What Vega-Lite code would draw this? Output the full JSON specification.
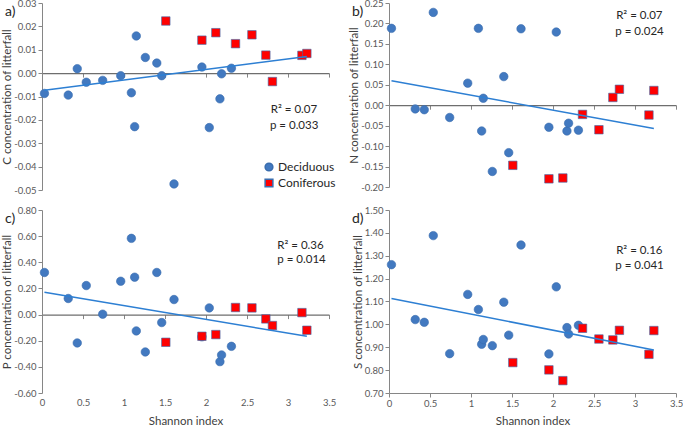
{
  "$schema": "https://vega.github.io/schema/vega-lite/v6.json",
  "padding": {"left": 1, "top": -2, "right": 0, "bottom": 0},
  "background": "white",
  "datasets": {
    "sites": [
      {"shannon": 0.03, "type": "Deciduous", "C": -0.0087, "N": 0.188, "P": 0.322, "S": 1.261},
      {"shannon": 0.32, "type": "Deciduous", "C": -0.0094, "N": -0.009, "P": 0.123, "S": 1.021},
      {"shannon": 0.43, "type": "Deciduous", "C": 0.0019, "N": -0.011, "P": -0.217, "S": 1.009},
      {"shannon": 0.54, "type": "Deciduous", "C": -0.0039, "N": 0.227, "P": 0.222, "S": 1.388},
      {"shannon": 0.74, "type": "Deciduous", "C": -0.0031, "N": -0.030, "P": 0.003, "S": 0.872},
      {"shannon": 0.96, "type": "Deciduous", "C": -0.0011, "N": 0.054, "P": 0.255, "S": 1.131},
      {"shannon": 1.09, "type": "Deciduous", "C": -0.0084, "N": 0.188, "P": 0.583, "S": 1.065},
      {"shannon": 1.13, "type": "Deciduous", "C": -0.0229, "N": -0.063, "P": 0.286, "S": 0.913},
      {"shannon": 1.15, "type": "Deciduous", "C": 0.0159, "N": 0.017, "P": -0.125, "S": 0.934},
      {"shannon": 1.26, "type": "Deciduous", "C": 0.0067, "N": -0.162, "P": -0.286, "S": 0.907},
      {"shannon": 1.40, "type": "Deciduous", "C": 0.0043, "N": 0.070, "P": 0.322, "S": 1.097},
      {"shannon": 1.46, "type": "Deciduous", "C": -0.0011, "N": -0.116, "P": -0.061, "S": 0.953},
      {"shannon": 1.61, "type": "Deciduous", "C": -0.0474, "N": 0.187, "P": 0.115, "S": 1.347},
      {"shannon": 1.95, "type": "Deciduous", "C": 0.0026, "N": -0.054, "P": -0.170, "S": 0.871},
      {"shannon": 2.04, "type": "Deciduous", "C": -0.0233, "N": 0.179, "P": 0.051, "S": 1.164},
      {"shannon": 2.17, "type": "Deciduous", "C": -0.0110, "N": -0.063, "P": -0.360, "S": 0.986},
      {"shannon": 2.19, "type": "Deciduous", "C": -0.0003, "N": -0.044, "P": -0.309, "S": 0.958},
      {"shannon": 2.31, "type": "Deciduous", "C": 0.0021, "N": -0.061, "P": -0.243, "S": 0.996},
      {"shannon": 1.51, "type": "Coniferous", "C": 0.0223, "N": -0.147, "P": -0.212, "S": 0.833},
      {"shannon": 1.95, "type": "Coniferous", "C": 0.0141, "N": -0.180, "P": -0.166, "S": 0.801},
      {"shannon": 2.12, "type": "Coniferous", "C": 0.0173, "N": -0.178, "P": -0.153, "S": 0.754},
      {"shannon": 2.36, "type": "Coniferous", "C": 0.0126, "N": -0.0225, "P": 0.054, "S": 0.983},
      {"shannon": 2.56, "type": "Coniferous", "C": 0.0164, "N": -0.060, "P": 0.051, "S": 0.936},
      {"shannon": 2.73, "type": "Coniferous", "C": 0.0077, "N": 0.019, "P": -0.033, "S": 0.932},
      {"shannon": 2.81, "type": "Coniferous", "C": -0.0036, "N": 0.039, "P": -0.084, "S": 0.974},
      {"shannon": 3.17, "type": "Coniferous", "C": 0.0076, "N": -0.024, "P": 0.015, "S": 0.869},
      {"shannon": 3.23, "type": "Coniferous", "C": 0.0084, "N": 0.036, "P": -0.120, "S": 0.973}
    ],
    "trend": [
      {"shannon": 0.03, "C": -0.0073, "N": 0.060, "P": 0.171, "S": 1.113},
      {"shannon": 3.23, "C": 0.0071, "N": -0.057, "P": -0.166, "S": 0.888}
    ]
  },
  "config": {
    "view": {"stroke": null},
    "font": "Lato",
    "axis": {
      "grid": false,
      "domainColor": "#868686",
      "tickColor": "#868686",
      "labelColor": "#595959",
      "labelFont": "Lato",
      "labelFontSize": 9.5,
      "labelOverlap": false,
      "labelBound": false,
      "labelFlush": false,
      "titleFont": "Lato",
      "titleFontSize": 11.5,
      "titleFontWeight": "normal",
      "titleColor": "#404040",
      "tickSize": 4
    },
    "legend": {"labelFont": "Lato", "labelFontSize": 12, "labelColor": "#262626"},
    "title": {"font": "Lato", "fontSize": 14, "fontWeight": "normal", "color": "#262626"}
  },
  "resolve": {"legend": {"color": "independent", "shape": "independent"}},
  "bounds": "flush",
  "columns": 2,
  "spacing": {"row": 20, "column": 60},
  "concat": [
    {
      "width": 287,
      "height": 187,
      "title": {"text": "a)", "anchor": "start", "frame": "group", "dx": -37, "dy": 32, "baseline": "middle"},
      "layer": [
        {
          "data": {"name": "sites"},
          "mark": {"type": "point", "filled": true, "size": 72, "opacity": 1, "strokeWidth": 0.6},
          "encoding": {
            "x": {"field": "shannon", "type": "quantitative", "scale": {"domain": [0, 3.5], "nice": false, "zero": false},
              "axis": {"orient": "bottom", "offset": -116.9, "values": [0, 0.5, 1, 1.5, 2, 2.5, 3, 3.5], "tickCount": 20, "labels": false, "title": null, "domainColor": "#6e6e6e", "domainWidth": 1.2}},
            "y": {"field": "C", "type": "quantitative", "scale": {"domain": [-0.05, 0.03], "nice": false, "zero": false},
              "axis": {"values": [-0.05, -0.04, -0.03, -0.02, -0.01, 0, 0.01, 0.02, 0.03], "tickCount": 20, "labelOverlap": false, "labelExpr": "replace(format(datum.value, '.2f'), '\u2212', '-')", "title": "C concentration of litterfall", "titlePadding": 1, "labelPadding": 2}},
            "color": {"field": "type", "type": "nominal", "scale": {"domain": ["Deciduous", "Coniferous"], "range": ["#4279C0", "#FF0000"]},
              "legend": {"orient": "none", "legendX": 221, "legendY": 158, "title": null, "symbolSize": 60, "rowPadding": 2, "labelOffset": 3}},
            "shape": {"field": "type", "type": "nominal", "scale": {"domain": ["Deciduous", "Coniferous"], "range": ["circle", "square"]},
              "legend": {"orient": "none", "legendX": 221, "legendY": 158, "title": null, "symbolSize": 60, "rowPadding": 2, "labelOffset": 3}},
            "stroke": {"value": "#3A6DAE"}
          }
        },
        {
          "data": {"name": "trend"},
          "mark": {"type": "line", "color": "#2D7FD3", "strokeWidth": 1.5},
          "encoding": {"x": {"field": "shannon", "type": "quantitative"}, "y": {"field": "C", "type": "quantitative"}}
        },
        {
          "data": {"values": [
            {"shannon": 2.79, "C": -0.0159, "label": "R² = 0.07"},
            {"shannon": 2.78, "C": -0.0227, "label": "p = 0.033"}
          ]},
          "mark": {"type": "text", "align": "left", "baseline": "middle", "fontSize": 11.5, "color": "#262626"},
          "encoding": {"x": {"field": "shannon", "type": "quantitative"}, "y": {"field": "C", "type": "quantitative"}, "text": {"field": "label"}}
        }
      ]
    },
    {
      "width": 287,
      "height": 184,
      "title": {"text": "b)", "anchor": "start", "frame": "group", "dx": -37, "dy": 32, "baseline": "middle"},
      "layer": [
        {
          "data": {"name": "sites"},
          "mark": {"type": "point", "filled": true, "size": 72, "opacity": 1, "strokeWidth": 0.6},
          "encoding": {
            "x": {"field": "shannon", "type": "quantitative", "scale": {"domain": [0, 3.5], "nice": false, "zero": false},
              "axis": {"orient": "bottom", "offset": -81.8, "values": [0, 0.5, 1, 1.5, 2, 2.5, 3, 3.5], "tickCount": 20, "labels": false, "title": null, "domainColor": "#6e6e6e", "domainWidth": 1.2}},
            "y": {"field": "N", "type": "quantitative", "scale": {"domain": [-0.2, 0.25], "nice": false, "zero": false},
              "axis": {"values": [-0.2, -0.15, -0.1, -0.05, 0, 0.05, 0.1, 0.15, 0.2, 0.25], "tickCount": 20, "labelOverlap": false, "labelExpr": "replace(format(datum.value, '.2f'), '\u2212', '-')", "title": "N concentration of litterfall", "titlePadding": 1, "labelPadding": 2}},
            "color": {"field": "type", "type": "nominal", "scale": {"domain": ["Deciduous", "Coniferous"], "range": ["#4279C0", "#FF0000"]}, "legend": null},
            "shape": {"field": "type", "type": "nominal", "scale": {"domain": ["Deciduous", "Coniferous"], "range": ["circle", "square"]}, "legend": null},
            "stroke": {"value": "#3A6DAE"}
          }
        },
        {
          "data": {"name": "trend"},
          "mark": {"type": "line", "color": "#2D7FD3", "strokeWidth": 1.5},
          "encoding": {"x": {"field": "shannon", "type": "quantitative"}, "y": {"field": "N", "type": "quantitative"}}
        },
        {
          "data": {"values": [
            {"shannon": 2.77, "N": 0.218, "label": "R² = 0.07"},
            {"shannon": 2.76, "N": 0.178, "label": "p = 0.024"}
          ]},
          "mark": {"type": "text", "align": "left", "baseline": "middle", "fontSize": 11.5, "color": "#262626"},
          "encoding": {"x": {"field": "shannon", "type": "quantitative"}, "y": {"field": "N", "type": "quantitative"}, "text": {"field": "label"}}
        }
      ]
    },
    {
      "width": 287,
      "height": 183,
      "title": {"text": "c)", "anchor": "start", "frame": "group", "dx": -37, "dy": 32, "baseline": "middle"},
      "layer": [
        {
          "data": {"name": "sites"},
          "mark": {"type": "point", "filled": true, "size": 72, "opacity": 1, "strokeWidth": 0.6},
          "encoding": {
            "x": {"field": "shannon", "type": "quantitative", "scale": {"domain": [0, 3.5], "nice": false, "zero": false},
              "axis": {"orient": "bottom", "offset": -78.4, "values": [0, 0.5, 1, 1.5, 2, 2.5, 3, 3.5], "tickCount": 20, "format": "~g", "labelPadding": 79, "title": "Shannon index", "titlePadding": 8, "domainColor": "#6e6e6e", "domainWidth": 1.2}},
            "y": {"field": "P", "type": "quantitative", "scale": {"domain": [-0.6, 0.8], "nice": false, "zero": false},
              "axis": {"values": [-0.6, -0.4, -0.2, 0, 0.2, 0.4, 0.6, 0.8], "tickCount": 20, "labelOverlap": false, "labelExpr": "replace(format(datum.value, '.2f'), '\u2212', '-')", "title": "P concentration of litterfall", "titlePadding": 1, "labelPadding": 2}},
            "color": {"field": "type", "type": "nominal", "scale": {"domain": ["Deciduous", "Coniferous"], "range": ["#4279C0", "#FF0000"]}, "legend": null},
            "shape": {"field": "type", "type": "nominal", "scale": {"domain": ["Deciduous", "Coniferous"], "range": ["circle", "square"]}, "legend": null},
            "stroke": {"value": "#3A6DAE"}
          }
        },
        {
          "data": {"name": "trend"},
          "mark": {"type": "line", "color": "#2D7FD3", "strokeWidth": 1.5},
          "encoding": {"x": {"field": "shannon", "type": "quantitative"}, "y": {"field": "P", "type": "quantitative"}}
        },
        {
          "data": {"values": [
            {"shannon": 2.87, "P": 0.526, "label": "R² = 0.36"},
            {"shannon": 2.87, "P": 0.416, "label": "p = 0.014"}
          ]},
          "mark": {"type": "text", "align": "left", "baseline": "middle", "fontSize": 11.5, "color": "#262626"},
          "encoding": {"x": {"field": "shannon", "type": "quantitative"}, "y": {"field": "P", "type": "quantitative"}, "text": {"field": "label"}}
        }
      ]
    },
    {
      "width": 287,
      "height": 183,
      "title": {"text": "d)", "anchor": "start", "frame": "group", "dx": -37, "dy": 32, "baseline": "middle"},
      "layer": [
        {
          "data": {"name": "sites"},
          "mark": {"type": "point", "filled": true, "size": 72, "opacity": 1, "strokeWidth": 0.6},
          "encoding": {
            "x": {"field": "shannon", "type": "quantitative", "scale": {"domain": [0, 3.5], "nice": false, "zero": false},
              "axis": {"orient": "bottom", "values": [0, 0.5, 1, 1.5, 2, 2.5, 3, 3.5], "tickCount": 20, "format": "~g", "labelPadding": 1, "title": "Shannon index", "titlePadding": 8}},
            "y": {"field": "S", "type": "quantitative", "scale": {"domain": [0.7, 1.5], "nice": false, "zero": false},
              "axis": {"values": [0.7, 0.8, 0.9, 1.0, 1.1, 1.2, 1.3, 1.4, 1.5], "tickCount": 20, "labelOverlap": false, "format": ".2f", "title": "S concentration of litterfall", "titlePadding": 1, "labelPadding": 2}},
            "color": {"field": "type", "type": "nominal", "scale": {"domain": ["Deciduous", "Coniferous"], "range": ["#4279C0", "#FF0000"]}, "legend": null},
            "shape": {"field": "type", "type": "nominal", "scale": {"domain": ["Deciduous", "Coniferous"], "range": ["circle", "square"]}, "legend": null},
            "stroke": {"value": "#3A6DAE"}
          }
        },
        {
          "data": {"name": "trend"},
          "mark": {"type": "line", "color": "#2D7FD3", "strokeWidth": 1.5},
          "encoding": {"x": {"field": "shannon", "type": "quantitative"}, "y": {"field": "S", "type": "quantitative"}}
        },
        {
          "data": {"values": [
            {"shannon": 2.77, "S": 1.322, "label": "R² = 0.16"},
            {"shannon": 2.76, "S": 1.255, "label": "p  = 0.041"}
          ]},
          "mark": {"type": "text", "align": "left", "baseline": "middle", "fontSize": 11.5, "color": "#262626"},
          "encoding": {"x": {"field": "shannon", "type": "quantitative"}, "y": {"field": "S", "type": "quantitative"}, "text": {"field": "label"}}
        }
      ]
    }
  ]
}
